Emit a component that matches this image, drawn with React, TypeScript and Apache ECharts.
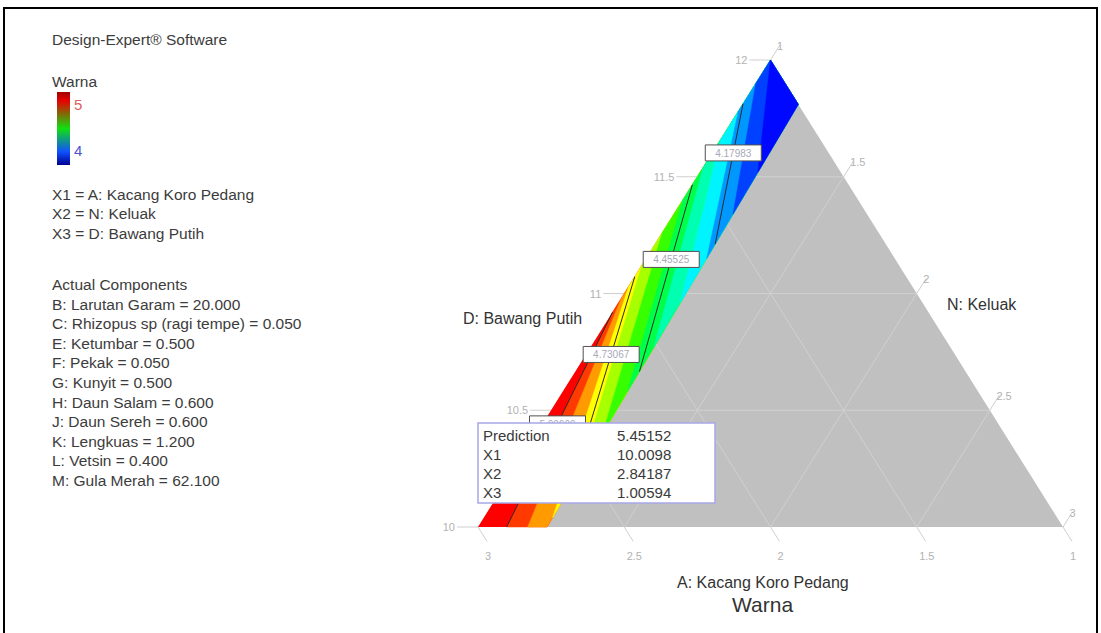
import React, { useEffect, useRef } from "react";
import * as echarts from "echarts";

// ---------- data (actual component amounts) ----------
// Ternary vertices as [N, D] (A = 14 - N - D)
const vertexBL = [1, 10]; // A = 3
const vertexBR = [3, 10]; // A = 1
const vertexT = [1, 12]; // A = 1

const dTicks = [10, 10.5, 11, 11.5, 12]; // D: Bawang Putih (left edge)
const nTicks = [1, 1.5, 2, 2.5, 3]; // N: Keluak (right edge)
const aTicks = [3, 2.5, 2, 1.5, 1]; // A: Kacang Koro Pedang (bottom edge)
const dTickLabels = ["10", "10.5", "11", "11.5", "12"];
const nTickLabels = ["1", "1.5", "2", "2.5", "3"];
const aTickLabels = ["3", "2.5", "2", "1.5", "1"];

// Right boundary of the design region [N, D]
const boundaryBottom = [1.236, 10];
const boundaryTop = [1.19, 11.81];

// Filled contour levels: start on left edge, end on boundary or bottom edge
const fillLevels = [5.0, 4.9, 4.8, 4.7, 4.6, 4.5, 4.4, 4.3, 4.2, 4.1, 4.0];
const fillStart = [
  [1, 10.92], [1, 10.98], [1, 11.03], [1, 11.12], [1, 11.26], [1, 11.4],
  [1, 11.54], [1, 11.66], [1, 11.78], [1, 11.9], [1, 12.0],
];
const fillEnd = [
  [1.098, 10], [1.17, 10], [1.235, 10.04], [1.23, 10.23], [1.226, 10.4], [1.221, 10.58],
  [1.216, 10.77], [1.212, 10.96], [1.207, 11.15], [1.202, 11.34], [1.197, 11.52],
];

// Labelled contour lines
const contourValues = [5.00609, 4.73067, 4.45525, 4.17983];
const contourStart = [[1, 10.92], [1, 11.072], [1, 11.466], [1, 11.812]];
const contourEnd = [[1.098, 10], [1.232, 10.172], [1.219, 10.666], [1.205, 11.212]];

// Legend / annotation texts
const designLines = ["X1 = A: Kacang Koro Pedang", "X2 = N: Keluak", "X3 = D: Bawang Putih"];
const componentNames = [
  "B: Larutan Garam", "C: Rhizopus sp (ragi tempe)", "E: Ketumbar", "F: Pekak", "G: Kunyit",
  "H: Daun Salam", "J: Daun Sereh", "K: Lengkuas", "L: Vetsin", "M: Gula Merah",
];
const componentValues = [20.0, 0.05, 0.5, 0.05, 0.5, 0.6, 0.6, 1.2, 0.4, 62.1];
const predictionNames = ["Prediction", "X1", "X2", "X3"];
const predictionValues = ["5.45152", "10.0098", "2.84187", "1.00594"];
const colorbarMax = 5;
const colorbarMin = 4;

// ---------- styles ----------
const SANS = "'Liberation Sans', Arial, Helvetica, sans-serif";
const bandBase = "#ff0000";
const bandPalette = [
  "#ff3a00", "#ff9a00", "#ffff00", "#a8ff00", "#38ff00", "#00ff48",
  "#00ffb0", "#00f4ff", "#0098ff", "#0040ff", "#0008ff",
];
const labelAt = [0.52, 0.37, 0.4, 0.35]; // fraction along each labelled contour

function toXY(p: number[]) {
  const N = p[0];
  const D = p[1];
  return [(N - 1) / 2 + (D - 10) / 4, (D - 10) / 2];
}
function unit(a: number[], b: number[]) {
  const dx = b[0] - a[0];
  const dy = b[1] - a[1];
  const l = Math.hypot(dx, dy) || 1;
  return [dx / l, dy / l];
}
function txt(text: string, x: number, y: number, font: string, fill: string, align = "left", valign = "middle") {
  return {
    type: "text",
    x,
    y,
    style: { text, fill, font, align, verticalAlign: valign, textAlign: align, textVerticalAlign: valign },
  };
}

const gridStroke = "#d0d0d0";
const tickStroke = "#cfcfcf";
const tickText = "#b2b2b2";
const tickFont = `11px ${SANS}`;

export default function App() {
  const ref = useRef<HTMLDivElement>(null);
  useEffect(() => {
    document.body.style.margin = "0";
    const chart = echarts.init(ref.current!, undefined, { renderer: "svg" });

    const base: any = { type: "custom", coordinateSystem: "cartesian2d", silent: true, clip: false };

    const triangle = {
      ...base,
      z: 1,
      data: [toXY(vertexBL)],
      renderItem: (_p: any, api: any) => ({
        type: "polygon",
        shape: { points: [vertexBL, vertexBR, vertexT].map((v) => api.coord(toXY(v))) },
        style: { fill: "#c0c0c0" },
      }),
    };

    const gridD = {
      ...base,
      z: 2,
      data: dTicks.map((d) => [d]),
      renderItem: (_p: any, api: any) => {
        const D = api.value(0);
        if (D <= 10 || D >= 12) return { type: "group", children: [] };
        const a = api.coord(toXY([1, D]));
        const b = api.coord(toXY([13 - D, D]));
        return { type: "line", shape: { x1: a[0], y1: a[1], x2: b[0], y2: b[1] }, style: { stroke: gridStroke, lineWidth: 1 } };
      },
    };
    const gridN = {
      ...base,
      z: 2,
      data: nTicks.map((n) => [n]),
      renderItem: (_p: any, api: any) => {
        const N = api.value(0);
        if (N <= 1 || N >= 3) return { type: "group", children: [] };
        const a = api.coord(toXY([N, 10]));
        const b = api.coord(toXY([N, 13 - N]));
        return { type: "line", shape: { x1: a[0], y1: a[1], x2: b[0], y2: b[1] }, style: { stroke: gridStroke, lineWidth: 1 } };
      },
    };
    const gridA = {
      ...base,
      z: 2,
      data: aTicks.map((a) => [a]),
      renderItem: (_p: any, api: any) => {
        const A = api.value(0);
        if (A <= 1 || A >= 3) return { type: "group", children: [] };
        const a = api.coord(toXY([1, 13 - A]));
        const b = api.coord(toXY([4 - A, 10]));
        return { type: "line", shape: { x1: a[0], y1: a[1], x2: b[0], y2: b[1] }, style: { stroke: gridStroke, lineWidth: 1 } };
      },
    };

    const tickD = {
      ...base,
      z: 2,
      data: dTicks.map((d) => [d]),
      renderItem: (p: any, api: any) => {
        const D = api.value(0);
        const s = api.coord(toXY([1, D]));
        const u = unit(api.coord(toXY(vertexBR)), api.coord(toXY(vertexBL)));
        const e = [s[0] + u[0] * 21, s[1] + u[1] * 21];
        return {
          type: "group",
          children: [
            { type: "line", shape: { x1: s[0], y1: s[1], x2: e[0], y2: e[1] }, style: { stroke: tickStroke, lineWidth: 1 } },
            txt(dTickLabels[p.dataIndex], e[0] - 2, e[1], tickFont, tickText, "right", "middle"),
          ],
        };
      },
    };
    const tickN = {
      ...base,
      z: 2,
      data: nTicks.map((n) => [n]),
      renderItem: (p: any, api: any) => {
        const N = api.value(0);
        const s = api.coord(toXY([N, 13 - N]));
        const u = unit(api.coord(toXY(vertexBL)), api.coord(toXY(vertexT)));
        const e = [s[0] + u[0] * 18, s[1] + u[1] * 18];
        return {
          type: "group",
          children: [
            { type: "line", shape: { x1: s[0], y1: s[1], x2: e[0], y2: e[1] }, style: { stroke: tickStroke, lineWidth: 1 } },
            txt(nTickLabels[p.dataIndex], e[0] - 3, e[1] + 1, tickFont, tickText, "left", "middle"),
          ],
        };
      },
    };
    const tickA = {
      ...base,
      z: 2,
      data: aTicks.map((a) => [a]),
      renderItem: (p: any, api: any) => {
        const A = api.value(0);
        const s = api.coord(toXY([4 - A, 10]));
        const u = unit(api.coord(toXY(vertexT)), api.coord(toXY(vertexBR)));
        const e = [s[0] + u[0] * 17, s[1] + u[1] * 17];
        return {
          type: "group",
          children: [
            { type: "line", shape: { x1: s[0], y1: s[1], x2: e[0], y2: e[1] }, style: { stroke: tickStroke, lineWidth: 1 } },
            txt(aTickLabels[p.dataIndex], e[0] + 1, e[1] + 15, tickFont, tickText, "center", "middle"),
          ],
        };
      },
    };

    const stripBase = {
      ...base,
      z: 3,
      data: [toXY(vertexBL)],
      renderItem: (_p: any, api: any) => ({
        type: "polygon",
        shape: { points: [vertexBL, boundaryBottom, boundaryTop, vertexT].map((v) => api.coord(toXY(v))) },
        style: { fill: bandBase },
      }),
    };

    const bands = {
      ...base,
      z: 3,
      data: fillLevels.map((v) => [v]),
      renderItem: (p: any, api: any) => {
        const i = p.dataIndex;
        const s = fillStart[i];
        const e = fillEnd[i];
        const pts = e[1] <= 10 ? [s, e, boundaryBottom, boundaryTop, vertexT] : [s, e, boundaryTop, vertexT];
        return {
          type: "polygon",
          shape: { points: pts.map((v) => api.coord(toXY(v))) },
          style: { fill: bandPalette[i], stroke: bandPalette[i], lineWidth: 0.5 },
        };
      },
    };

    const contourLines = {
      ...base,
      z: 4,
      data: contourValues.map((v) => [v]),
      renderItem: (p: any, api: any) => {
        const i = p.dataIndex;
        const a = api.coord(toXY(contourStart[i]));
        const b = api.coord(toXY(contourEnd[i]));
        return { type: "line", shape: { x1: a[0], y1: a[1], x2: b[0], y2: b[1] }, style: { stroke: "#2a2a2a", lineWidth: 1 } };
      },
    };

    const contourLabels = {
      ...base,
      z: 5,
      data: contourValues.map((v) => [v]),
      renderItem: (p: any, api: any) => {
        const i = p.dataIndex;
        const a = api.coord(toXY(contourStart[i]));
        const b = api.coord(toXY(contourEnd[i]));
        const t = labelAt[i];
        const cx = a[0] + (b[0] - a[0]) * t;
        const cy = a[1] + (b[1] - a[1]) * t;
        return {
          type: "group",
          children: [
            { type: "rect", shape: { x: cx - 28, y: cy - 8, width: 56, height: 16 }, style: { fill: "#ffffff", stroke: "#505050", lineWidth: 1 } },
            txt(contourValues[i].toFixed(5), cx, cy + 0.5, `10px ${SANS}`, "#a8a8b8", "center", "middle"),
          ],
        };
      },
    };

    // ---------- graphic (legend panel, titles, prediction box) ----------
    const panelFont = `15.5px ${SANS}`;
    const panelColor = "#3c3c3c";
    const g: any[] = [];
    g.push({ type: "rect", shape: { x: 4, y: 8, width: 1093, height: 640 }, style: { fill: "none", stroke: "#000", lineWidth: 2 }, z: 200 });
    g.push(txt("Design-Expert® Software", 52, 39, panelFont, panelColor));
    g.push(txt("Warna", 52, 81, panelFont, panelColor));
    g.push({
      type: "rect",
      shape: { x: 57, y: 92, width: 13, height: 73 },
      style: {
        fill: new echarts.graphic.LinearGradient(0, 0, 0, 1, [
          { offset: 0, color: "#a00000" },
          { offset: 0.12, color: "#e80000" },
          { offset: 0.5, color: "#10e010" },
          { offset: 0.82, color: "#1050ff" },
          { offset: 1, color: "#000090" },
        ]),
      },
    });
    g.push(txt(String(colorbarMax), 74, 104, `15px ${SANS}`, "#e06060", "left"));
    g.push(txt(String(colorbarMin), 74, 150, `15px ${SANS}`, "#5050d0", "left"));
    designLines.forEach((t, i) => g.push(txt(t, 52, 194 + i * 19.5, panelFont, panelColor)));
    g.push(txt("Actual Components", 52, 284, panelFont, panelColor));
    componentNames.forEach((t, i) =>
      g.push(txt(`${t} = ${componentValues[i].toFixed(3)}`, 52, 304 + i * 19.6, panelFont, panelColor))
    );

    g.push(txt("D: Bawang Putih", 463, 318, `16px ${SANS}`, "#333", "left"));
    g.push(txt("N: Keluak", 947, 304, `16px ${SANS}`, "#333", "left"));
    g.push(txt("A: Kacang Koro Pedang", 677, 582, `16px ${SANS}`, "#333", "left"));
    g.push(txt("Warna", 732, 604, `21px ${SANS}`, "#333", "left"));

    // prediction flag box
    g.push({ type: "rect", shape: { x: 478, y: 423, width: 237, height: 80 }, style: { fill: "#ffffff", stroke: "#a8a8e8", lineWidth: 1.5 }, z: 100 });
    predictionNames.forEach((t, i) => {
      g.push({ ...txt(t, 483, 435 + i * 19, `15px ${SANS}`, "#3a3a3a"), z: 101 });
      g.push({ ...txt(predictionValues[i], 617, 435 + i * 19, `15px ${SANS}`, "#3a3a3a"), z: 101 });
    });

    chart.setOption({
      animation: false,
      tooltip: { show: false },
      grid: { left: 478, top: 60, width: 585, height: 467, show: false },
      xAxis: { type: "value", min: 0, max: 1, show: false },
      yAxis: { type: "value", min: 0, max: 1, show: false },
      series: [triangle, gridD, gridN, gridA, tickD, tickN, tickA, stripBase, bands, contourLines, contourLabels],
      graphic: g,
    });
    return () => chart.dispose();
  }, []);
  return <div ref={ref} style={{ width: 1101, height: 633 }} />;
}
